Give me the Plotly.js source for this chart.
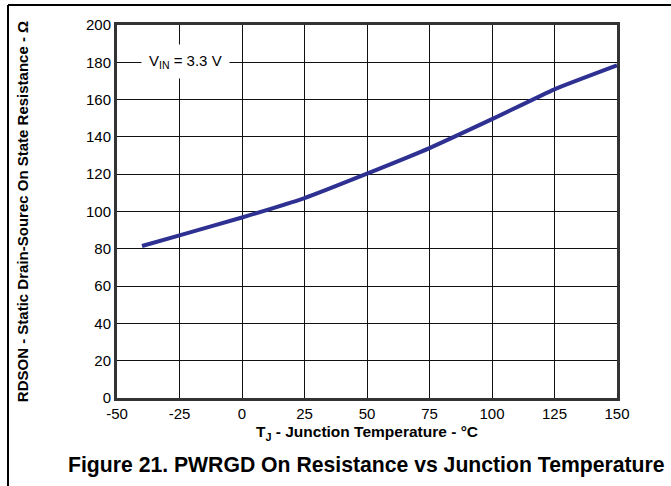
<!DOCTYPE html>
<html>
<head>
<meta charset="utf-8">
<script src="https://cdn.plot.ly/plotly-3.0.1.min.js"></script>
<style>
html,body{margin:0;padding:0;background:#fff;}
#chart{width:671px;height:486px;}
</style>
</head>
<body>
<div id="chart"></div>
<script>
// Junction temperature (°C)
var tempC = [-40, -25, 0, 25, 50, 75, 100, 125, 150];
// RDSON (Ω) at VIN = 3.3 V
var rdsOn = [81.5, 87.2, 96.8, 107.2, 120.3, 134, 149.5, 165.5, 178.3];
var xTicks = [-50, -25, 0, 25, 50, 75, 100, 125, 150];
var yTicks = [0, 20, 40, 60, 80, 100, 120, 140, 160, 180, 200];

var L = 117, R = 617, T = 24.5, B = 398, W = 671, H = 486;
function px2x(p){ return (p - L) / (R - L); }
function px2y(p){ return (B - p) / (B - T); }

var trace = {
  x: tempC, y: rdsOn, type: 'scatter', mode: 'lines',
  line: {color: '#2e3192', width: 4, shape: 'spline', smoothing: 0.4},
  hoverinfo: 'none', showlegend: false
};

var axisCommon = {
  showline: true, mirror: true, linecolor: '#333', linewidth: 3,
  showgrid: true, gridcolor: '#111', gridwidth: 1,
  zeroline: false, ticks: '',
  tickfont: {family: 'Liberation Sans, Arial, sans-serif', size: 15, color: '#000'}
};

var layout = {
  width: W, height: H,
  margin: {l: L, r: W - R, t: T, b: H - B, pad: 0},
  paper_bgcolor: '#fff', plot_bgcolor: '#fff',
  xaxis: Object.assign({}, axisCommon, {
    range: [-50, 150], tickmode: 'array', tickvals: xTicks,
    ticktext: xTicks.map(String),
    title: {text: '<b>T<sub>J</sub> - Junction Temperature - °C</b>',
      font: {family: 'Liberation Sans, Arial, sans-serif', size: 15.5, color: '#000'}, standoff: 6}
  }),
  yaxis: Object.assign({}, axisCommon, {
    range: [0, 200], tickmode: 'array', tickvals: yTicks,
    ticktext: yTicks.map(String),
    title: {text: '<b>RDSON - Static Drain-Sourec On State Resistance - Ω</b>',
      font: {family: 'Liberation Sans, Arial, sans-serif', size: 15, color: '#000'}, standoff: 54}
  }),
  annotations: [
    {x: -22.6, y: 180.2, xref: 'x', yref: 'y', showarrow: false,
     text: 'V<sub>IN</sub> = 3.3 V', bgcolor: '#fff', borderpad: 7,
     font: {family: 'Liberation Sans, Arial, sans-serif', size: 15, color: '#000'}},
    {x: px2x(66), y: px2y(465), xref: 'paper', yref: 'paper', xanchor: 'left', yanchor: 'middle',
     showarrow: false, text: '<b>Figure 21. PWRGD On Resistance vs Junction Temperature</b>',
     font: {family: 'Liberation Sans, Arial, sans-serif', size: 21.2, color: '#000'}}
  ],
  shapes: [
    {type: 'line', xref: 'paper', yref: 'paper', x0: px2x(8), x1: px2x(672), y0: px2y(4.5), y1: px2y(4.5),
     line: {color: '#000', width: 2}},
    {type: 'line', xref: 'paper', yref: 'paper', x0: px2x(8), x1: px2x(8), y0: px2y(4.5), y1: px2y(490),
     line: {color: '#000', width: 2}}
  ]
};

Plotly.newPlot('chart', [trace], layout, {displayModeBar: false, staticPlot: true});
</script>
</body>
</html>
